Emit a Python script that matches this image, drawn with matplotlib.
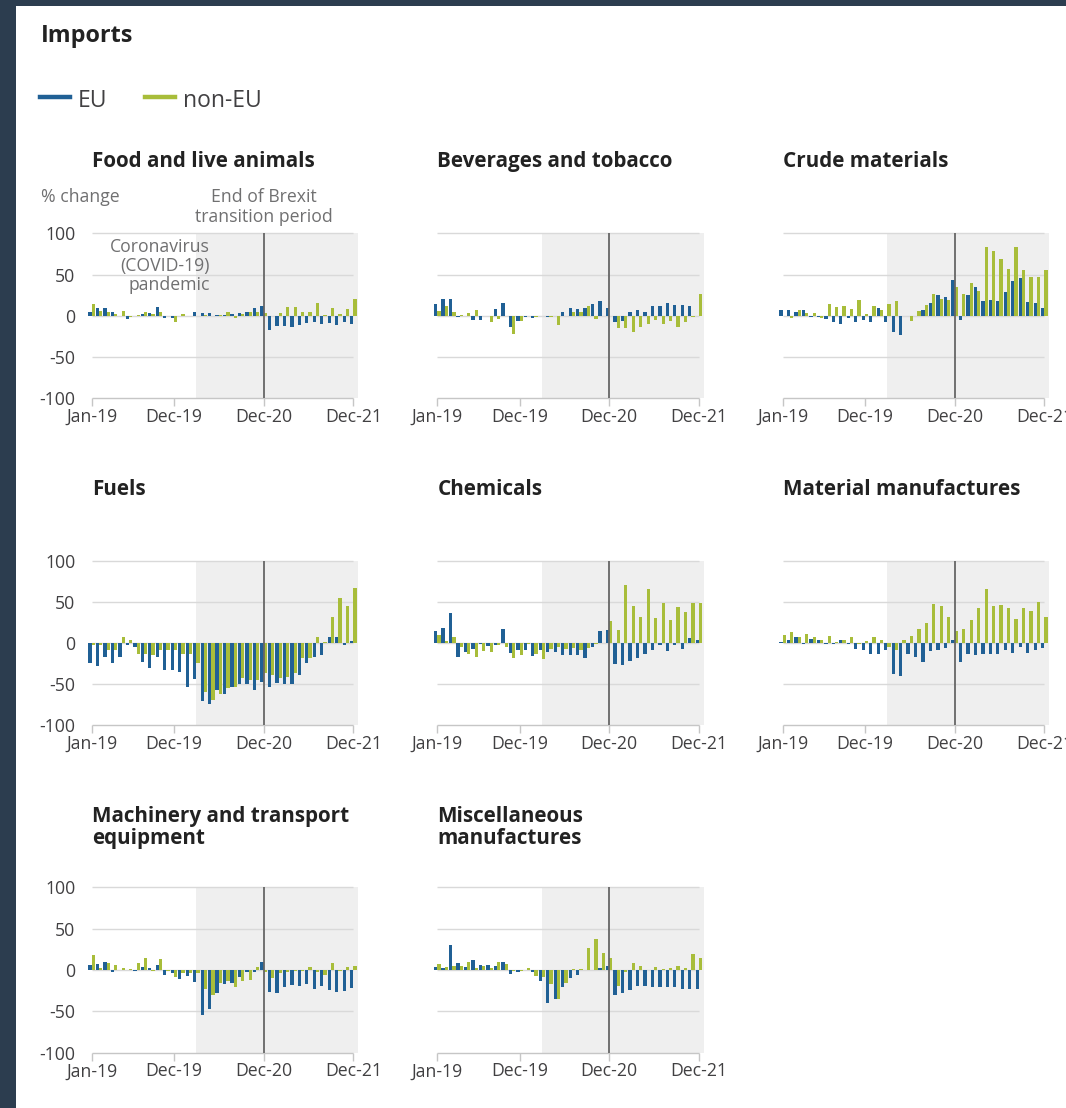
import matplotlib
matplotlib.use('Agg')
import matplotlib.pyplot as plt
from matplotlib.patches import Rectangle
from matplotlib.lines import Line2D
import numpy as np

plt.rcParams['font.family'] = ['Open Sans', 'DejaVu Sans']

# ---------------- data ----------------
months = list(range(36))  # Jan-19 .. Dec-21
tick_pos = [0, 11, 23, 35]
tick_labels = ['Jan-19', 'Dec-19', 'Dec-20', 'Dec-21']
yticks = [-100, -50, 0, 50, 100]

titles = ['Food and live animals', 'Beverages and tobacco', 'Crude materials',
          'Fuels', 'Chemicals', 'Material manufactures',
          'Machinery and transport\nequipment', 'Miscellaneous\nmanufactures']

food_eu = [5, 9, 9, 4, 0, -4, 0, 2, 3, 11, -3, -3, 0, 0, 5, 3, 3, 1, 1, 2, 3, 4, 10, 12,
           -17, -12, -12, -14, -11, -9, -8, -10, -9, -11, -8, -10]
food_non = [14, 6, 5, 2, 6, -2, 1, 5, 2, 4, 0, -7, 2, 0, 0, 1, 0, 1, 4, -3, 2, 5, 5, 3,
            0, 3, 11, 11, 5, 5, 16, 1, 10, 2, 8, 20]

bev_eu = [14, 20, 20, -1, 0, -5, -5, 0, 8, 16, -14, -6, -1, -3, 0, -1, 0, 4, 10, 8, 10, 14, 18, 9,
          -8, -6, 4, 7, 4, 12, 12, 15, 13, 13, 12, 0]
bev_non = [6, 12, 5, 1, 3, 7, 0, -8, -4, 0, -22, -6, 0, -2, 0, -1, -11, 0, 5, 4, 12, -4, 0, 0,
           -15, -15, -20, -13, -10, -5, -10, -6, -13, -7, -1, 27]

crude_eu = [7, 7, 4, 7, -1, -2, -4, -7, -10, -3, -8, -5, -7, 10, -7, -20, -23, 0, 0, 7, 16, 25, 23, 43,
            -5, 25, 35, 18, 19, 18, 29, 42, 46, 17, 16, 9]
crude_non = [0, -3, 7, 3, 3, -3, 14, 11, 12, 8, 19, 2, 12, 7, 14, 18, 0, -6, 6, 13, 27, 20, 19, 35,
             26, 40, 30, 83, 79, 69, 57, 83, 56, 47, 47, 56]

fuels_eu = [-24, -28, -17, -24, -17, -3, -5, -23, -31, -17, -33, -33, -36, -54, -44, -71, -74, -58,
            -62, -54, -50, -50, -57, -48, -54, -49, -50, -50, -39, -25, -17, -15, 7, 7, -3, 2]
fuels_non = [-3, -3, -9, -9, 7, 3, -13, -13, -15, -9, -9, -9, -13, -13, -25, -60, -69, -62,
             -55, -54, -43, -45, -45, -37, -39, -43, -41, -37, -19, -19, 7, 1, 31, 55, 45, 67]

chem_eu = [15, 18, 36, -17, -11, -7, -1, -4, -3, 17, -12, -9, -9, -16, -9, -11, -11, -15,
           -15, -15, -18, -5, 15, 16, -26, -27, -22, -19, -13, -9, -3, -10, -3, -7, 6, 4]
chem_non = [10, 2, 7, -5, -13, -17, -10, -11, -3, -5, -19, -15, -1, -13, -20, -7, -5, -7,
            -6, -9, -6, -1, 0, 27, 16, 71, 45, 32, 65, 30, 49, 28, 44, 38, 48, 49]

mat_eu = [1, 3, 7, -2, 5, 4, -2, -1, 4, -2, -7, -9, -13, -13, -9, -38, -40, -14,
          -17, -23, -10, -9, -6, 4, -23, -14, -15, -13, -13, -13, -9, -12, -5, -12, -9, -6]
mat_non = [9, 13, 7, 11, 7, 3, 8, 1, 4, 7, -1, 2, 7, 4, -5, -9, 4, 8,
           17, 24, 47, 45, 32, 15, 17, 28, 43, 66, 45, 46, 42, 29, 42, 39, 50, 32]

mach_eu = [6, 7, 10, -2, 0, 0, -1, 4, 3, 6, -6, -4, -11, -7, -15, -54, -47, -28,
           -17, -16, -8, -2, -2, 10, -27, -28, -21, -18, -19, -17, -23, -19, -24, -27, -25, -22]
mach_non = [18, 3, 9, 6, 3, 1, 9, 14, -1, 13, -1, -9, -4, -4, -4, -23, -30, -16,
            -13, -21, -13, -12, 4, -2, -10, -4, -2, -1, -1, 4, -2, -6, 9, -1, 4, 5]

misc_eu = [4, 2, 30, 8, 4, 12, 6, 6, 5, 10, -5, -3, 0, -2, -13, -40, -35, -20,
           -10, -6, 0, 0, 2, 5, -30, -28, -24, -19, -19, -20, -20, -20, -21, -23, -23, -23]
misc_non = [7, 4, 5, 5, 10, 3, 5, 3, 10, 7, -1, -1, 2, -7, -9, -17, -35, -16,
            1, 1, 26, 37, 20, 15, -19, -2, 8, 5, 0, 4, 1, 3, 5, 2, 19, 15]

series_eu = [food_eu, bev_eu, crude_eu, fuels_eu, chem_eu, mat_eu, mach_eu, misc_eu]
series_non = [food_non, bev_non, crude_non, fuels_non, chem_non, mat_non, mach_non, misc_non]

pandemic_start = 14   # Mar-20
brexit_end = 23       # Dec-20

# ---------------- style ----------------
EU_C = '#206095'
NON_C = '#a8bd3a'
TXT = '#414042'
ANN = '#707071'
GRID = '#d9d9d9'
SHADE = '#efefef'

W, H = 1066, 1108
fig = plt.figure(figsize=(W / 100, H / 100), dpi=100, facecolor='#2c3d4f')


def fx(x):
    return x / W


def fy(y):
    return 1 - y / H


fig.patches.append(Rectangle((fx(16), 0), 1, fy(6), transform=fig.transFigure,
                             facecolor='white', edgecolor='none', zorder=-10))

# header
fig.text(fx(41), fy(42), 'Imports', fontsize=16.8, fontweight='bold', color='#222222',
         ha='left', va='baseline')
fig.add_artist(Line2D([fx(40), fx(70)], [fy(97), fy(97)], color=EU_C, lw=3.2,
                      transform=fig.transFigure))
fig.text(fx(78), fy(107), 'EU', fontsize=16.5, color=TXT, ha='left', va='baseline')
fig.add_artist(Line2D([fx(145), fx(175)], [fy(97), fy(97)], color=NON_C, lw=3.2,
                      transform=fig.transFigure))
fig.text(fx(183), fy(107), 'non-EU', fontsize=16.5, color=TXT, ha='left', va='baseline')

col_x0 = [91.7, 437.3, 782.7]
row_top = [233.3, 560.7, 887.3]
row_bot = [398.3, 725.0, 1052.7]
title_base = [[167], [495], [822, 844]]
MPX = (353.3 - 91.7) / 35.0
XL = (-1.0, 36.0)

bw = 0.44
x = np.array(months)

for i in range(8):
    r, c = divmod(i, 3)
    x0 = col_x0[c]
    left = x0 + XL[0] * MPX
    width = (XL[1] - XL[0]) * MPX
    top, bot = row_top[r], row_bot[r]
    ax = fig.add_axes([fx(left), fy(bot), width / W, (bot - top) / H])
    ax.set_xlim(*XL)
    ax.set_ylim(-100, 100)
    ax.patch.set_visible(False)
    for s in ax.spines.values():
        s.set_visible(False)

    ax.axvspan(pandemic_start, 35.65, color=SHADE, zorder=0, lw=0)
    ax.hlines([-50, 0, 50, 100], 0, 35, color=GRID, lw=1, zorder=1, clip_on=False)
    ax.hlines([-100], 0, 35, color='#c6c6c6', lw=1, zorder=1, clip_on=False)
    ax.bar(x - bw / 2, series_eu[i], width=bw, color=EU_C, zorder=2, lw=0)
    ax.bar(x + bw / 2, series_non[i], width=bw, color=NON_C, zorder=2, lw=0)
    ax.vlines(brexit_end, -100, 100, color='#666666', lw=1.3, zorder=3, clip_on=False)

    ax.set_xticks(tick_pos)
    ax.set_xticklabels(tick_labels)
    ax.tick_params(axis='x', length=5.5, width=1, color='#c6c6c6', pad=1.5,
                   labelsize=12.7, labelcolor=TXT)
    ax.set_yticks(yticks)
    if c == 0:
        ax.set_yticklabels([str(v) for v in yticks])
        ax.tick_params(axis='y', length=0, pad=6.3, labelsize=12.7, labelcolor=TXT)
    else:
        ax.set_yticklabels([])
        ax.tick_params(axis='y', length=0)

    for line, yb in zip(titles[i].split('\n'), title_base[r]):
        fig.text(fx(x0), fy(yb), line, fontsize=14.9, fontweight='bold', color='#222222',
                 ha='left', va='baseline')

# annotations (first panel)
fig.text(fx(41), fy(201.5), '% change', fontsize=12.7, color=ANN, ha='left', va='baseline')
bx = col_x0[0] + brexit_end * MPX
fig.text(fx(bx), fy(201.5), 'End of Brexit', fontsize=12.7, color=ANN, ha='center', va='baseline')
fig.text(fx(bx), fy(222), 'transition period', fontsize=12.7, color=ANN, ha='center', va='baseline')
for line, yb in zip(['Coronavirus', '(COVID-19)', 'pandemic'], [252, 271, 290]):
    fig.text(fx(210), fy(yb), line, fontsize=12.7, color=ANN, ha='right', va='baseline')

fig.savefig('out.png', dpi=100, facecolor=fig.get_facecolor())
